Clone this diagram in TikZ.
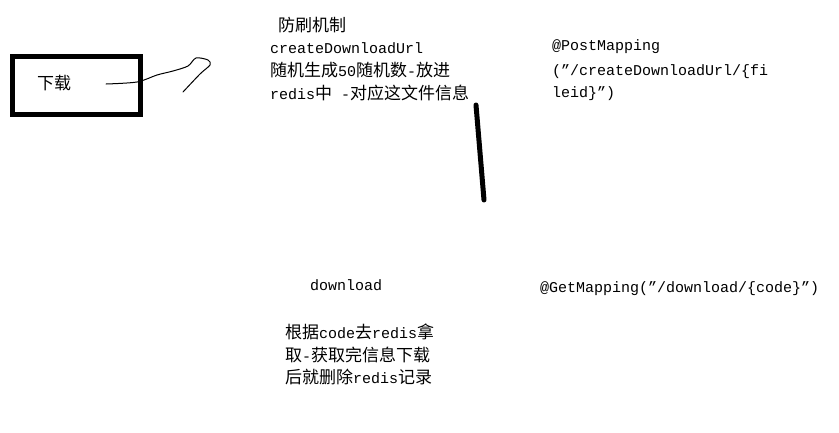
\documentclass[tikz,border=0pt]{standalone}
\usepackage{fontspec}
\setmainfont{Liberation Mono}
\newfontfamily\cjk{Noto Sans CJK SC}
\newcommand\zh[1]{{\fontsize{17}{20}\selectfont\cjk #1}}
\begin{document}
\begin{tikzpicture}[x=1pt,y=-1pt,
  txt/.style={anchor=base west, inner sep=0pt, font=\fontsize{15}{18}\selectfont},
  thickbox/.style={draw, line width=5pt, minimum width=128pt, minimum height=58pt, inner sep=0pt},
  stroke/.style={line width=1pt, line cap=round, line join=round},
  heavy/.style={line width=5pt, line cap=round}]
\useasboundingbox[fill=white] (0,0) rectangle (839,432);
% box
\node[thickbox] (box) at (76.5,85.5) {};
\node[txt] (lbl) at (37,89) {\zh{下载}};
% freehand stroke
\coordinate (s0) at (106,84);
\coordinate (s1) at (183,92);
\draw[stroke] plot[smooth, tension=0.5] coordinates {(s0) (137,82) (157,75) (173,71) (188,66) (196,58) (208,60) (210,65) (200,74) (s1)};
% block 1
\node[txt] (b1a) at (278,31) {\zh{防刷机制}};
\node[txt] (b1b) at (270,53) {createDownloadUrl};
\node[txt] (b1c) at (270,76) {\zh{随机生成}50\zh{随机数}-\zh{放进}};
\node[txt] (b1d) at (270,99) {redis\zh{中} -\zh{对应这文件信息}};
% thick line
\coordinate (t0) at (476,105);
\coordinate (t1) at (484,200);
\draw[heavy] (t0) -- (t1);
% block 2
\node[txt] (b2a) at (552,50) {@PostMapping};
\node[txt] (b2b) at (552,75) {("/createDownloadUrl/\{fi};
\node[txt] (b2c) at (552,97) {leid\}")};
% block 3
\node[txt] (b3a) at (310,290) {download};
\node[txt] (b3b) at (285,338) {\zh{根据}code\zh{去}redis\zh{拿}};
\node[txt] (b3c) at (285,361) {\zh{取}-\zh{获取完信息下载}};
\node[txt] (b3d) at (285,383) {\zh{后就删除}redis\zh{记录}};
% block 4
\node[txt] (b4a) at (540,292) {@GetMapping("/download/\{code\}")};
\end{tikzpicture}
\end{document}
